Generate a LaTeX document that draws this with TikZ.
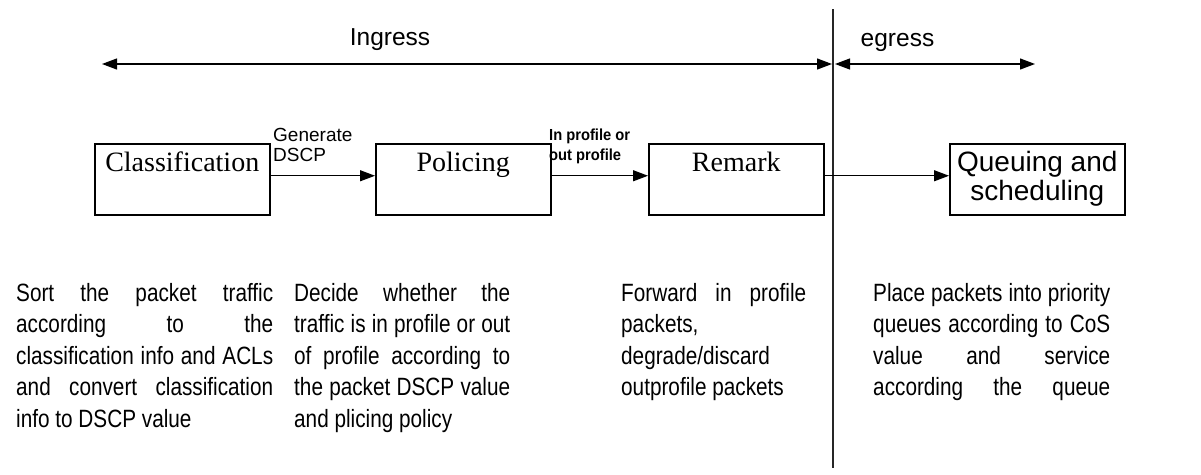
\documentclass[tikz,border=0pt]{standalone}
\usepackage{fontspec}
\setmainfont{Liberation Serif}
\newfontfamily\arialf{Liberation Sans}
\newfontfamily\arialc[FakeStretch=0.83]{Liberation Sans}
\newfontfamily\arialb[FakeStretch=0.92]{Liberation Sans}
\usetikzlibrary{arrows.meta}
\newcommand{\parsetup}{\tolerance=10000 \hyphenpenalty=10000 \exhyphenpenalty=10000 \noindent\strut}
\begin{document}
\begin{tikzpicture}[x=1pt,y=-1pt,
  box/.style={draw, line width=1.5pt, minimum width=175pt, minimum height=71pt, inner sep=0pt, anchor=north west},
  serifbox/.style={box, font=\fontsize{28}{30}\selectfont, text height=28pt, text depth=43pt},
  sansbox/.style={box, font=\arialf\fontsize{28}{29}\selectfont, align=center},
  arr/.style={line width=1.2pt, -{Triangle[length=15pt,width=11pt]}},
  dblarr/.style={line width=1.2pt, {Triangle[length=15pt,width=11pt]}-{Triangle[length=15pt,width=11pt]}},
  para/.style={anchor=north west, inner sep=0pt, align=justify, font=\arialc\fontsize{25}{31.5}\selectfont},
  elabel/.style={anchor=north west, inner sep=0pt, align=left},
  title/.style={anchor=base, inner sep=0pt, font=\arialf\fontsize{24.5}{28}\selectfont},
]
\useasboundingbox (0,0) rectangle (1201,474);

% divider
\coordinate (vt) at (833,9);
\coordinate (vb) at (833,468);
\draw[line width=1.2pt, black!85] (vt) -- (vb);

% ingress / egress ranges
\coordinate (inL) at (102,64);
\coordinate (inR) at (832,64);
\coordinate (egL) at (835,64);
\coordinate (egR) at (1035,64);
\draw[dblarr] (inL) -- (inR);
\draw[dblarr] (egL) -- (egR);
\node[title] (ing) at (390,45.5) {Ingress};
\node[title] (eg) at (897.5,46.5) {egress};

% boxes
\node[serifbox] (cls) at (94,143) {Classification};
\node[serifbox] (pol) at (375,143) {Policing};
\node[serifbox] (rem) at (648,143) {Remark};
\node[sansbox] (que) at (949,143) {Queuing and\\scheduling};

% connectors
\draw[arr] ([yshift=3.5pt]cls.east) -- ([yshift=3.5pt]pol.west);
\draw[arr] ([yshift=3.5pt]pol.east) -- ([yshift=3.5pt]rem.west);
\draw[arr] ([yshift=3.5pt]rem.east) -- ([yshift=3.5pt]que.west);

% connector labels
\node[elabel, font=\arialf\fontsize{19}{20}\selectfont] (gen) at (273,128) {Generate\\DSCP};
\node[elabel, font=\arialb\bfseries\fontsize{16}{20}\selectfont] (prof) at (549,129) {In profile or\\out profile};

% descriptions
\node[para, text width=257pt] (d1) at (16,279)
  {\parsetup Sort the packet traffic\linebreak according to the\linebreak classification info and ACLs\linebreak and convert classification\linebreak info to DSCP value};
\node[para, text width=216pt] (d2) at (294,279)
  {\parsetup Decide whether the\linebreak traffic is in profile or out\linebreak of profile according to\linebreak the packet DSCP value\linebreak and plicing policy};
\node[para, text width=185pt] (d3) at (621,279)
  {\parsetup Forward in profile\linebreak packets,\\ degrade/discard\\ outprofile packets};
\node[para, text width=237pt] (d4) at (873,279)
  {\parsetup\parfillskip=0pt Place packets into priority\linebreak queues according to CoS\linebreak value and service\linebreak according the queue\par};
\end{tikzpicture}
\end{document}
